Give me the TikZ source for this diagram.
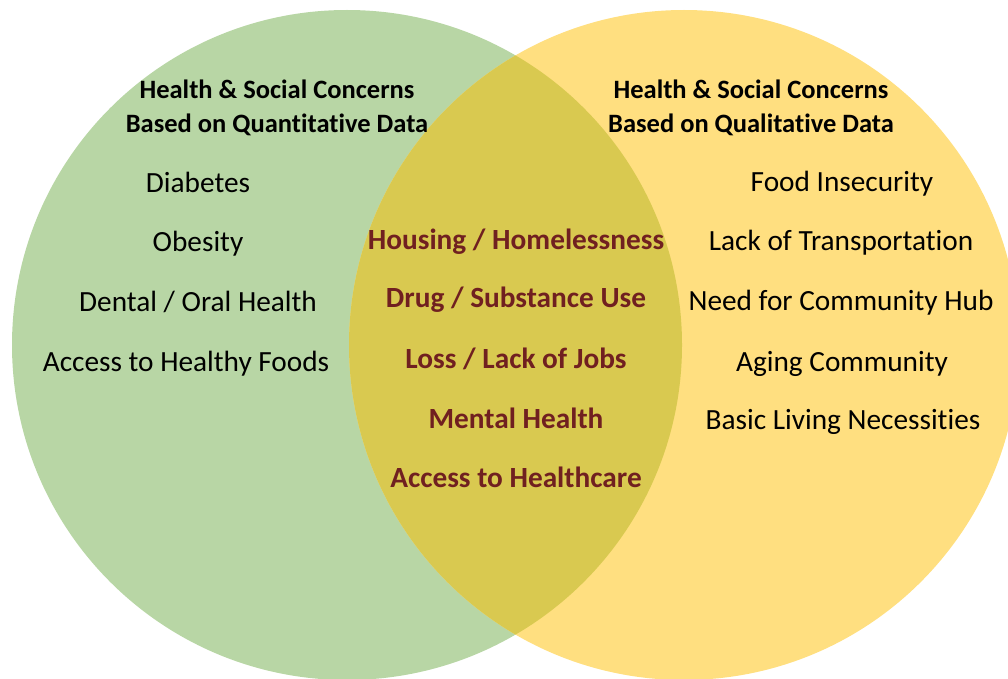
\documentclass[tikz,border=0pt]{standalone}
\usepackage{fontspec}
\setmainfont{Carlito}[Ligatures=NoCommon]
\begin{document}
\begin{tikzpicture}[x=1pt,y=-1pt,
  heading/.style={font=\bfseries\fontsize{26.5}{34}\selectfont, align=center, text=black, inner sep=0pt},
  item/.style={font=\fontsize{29.3}{34}\selectfont, text=black, inner sep=0pt},
  shared/.style={font=\bfseries\fontsize{29.3}{34}\selectfont, text=sharedtext, inner sep=0pt}]
\definecolor{quantgreen}{RGB}{184,214,165}
\definecolor{qualyellow}{RGB}{255,223,128}
\definecolor{overlapgold}{RGB}{217,201,80}
\definecolor{sharedtext}{RGB}{112,32,32}
\useasboundingbox (0,0) rectangle (1008,679);
\begin{scope}
  \clip (0,0) rectangle (1008,679);
  % the two sets
  \fill[quantgreen] (347,345) circle (335);
  \fill[qualyellow] (684,345) circle (335);
  % their intersection
  \begin{scope}
    \clip (347,345) circle (335);
    \fill[overlapgold] (684,345) circle (335);
  \end{scope}
\end{scope}
% headings
\node[heading] (hq) at (277,108) {Health \& Social Concerns\\Based on Quantitative Data};
\node[heading] (hl) at (751,108) {Health \& Social Concerns\\Based on Qualitative Data};
% quantitative only
\node[item] (q1) at (198,182) {Diabetes};
\node[item] (q2) at (198,244) {Obesity};
\node[item] (q3) at (198,302) {Dental / Oral Health};
\node[item] (q4) at (186,364) {Access to Healthy Foods};
% shared concerns
\node[shared] (s1) at (516,242) {Housing / Homelessness};
\node[shared] (s2) at (516,300) {Drug / Substance Use};
\node[shared] (s3) at (516,359) {Loss / Lack of Jobs};
\node[shared] (s4) at (516,418) {Mental Health};
\node[shared] (s5) at (516,477) {Access to Healthcare};
% qualitative only
\node[item] (l1) at (842,184) {Food Insecurity};
\node[item] (l2) at (841,243) {Lack of Transportation};
\node[item] (l3) at (841,303) {Need for Community Hub};
\node[item] (l4) at (842,364) {Aging Community};
\node[item] (l5) at (843,422) {Basic Living Necessities};
\end{tikzpicture}
\end{document}
